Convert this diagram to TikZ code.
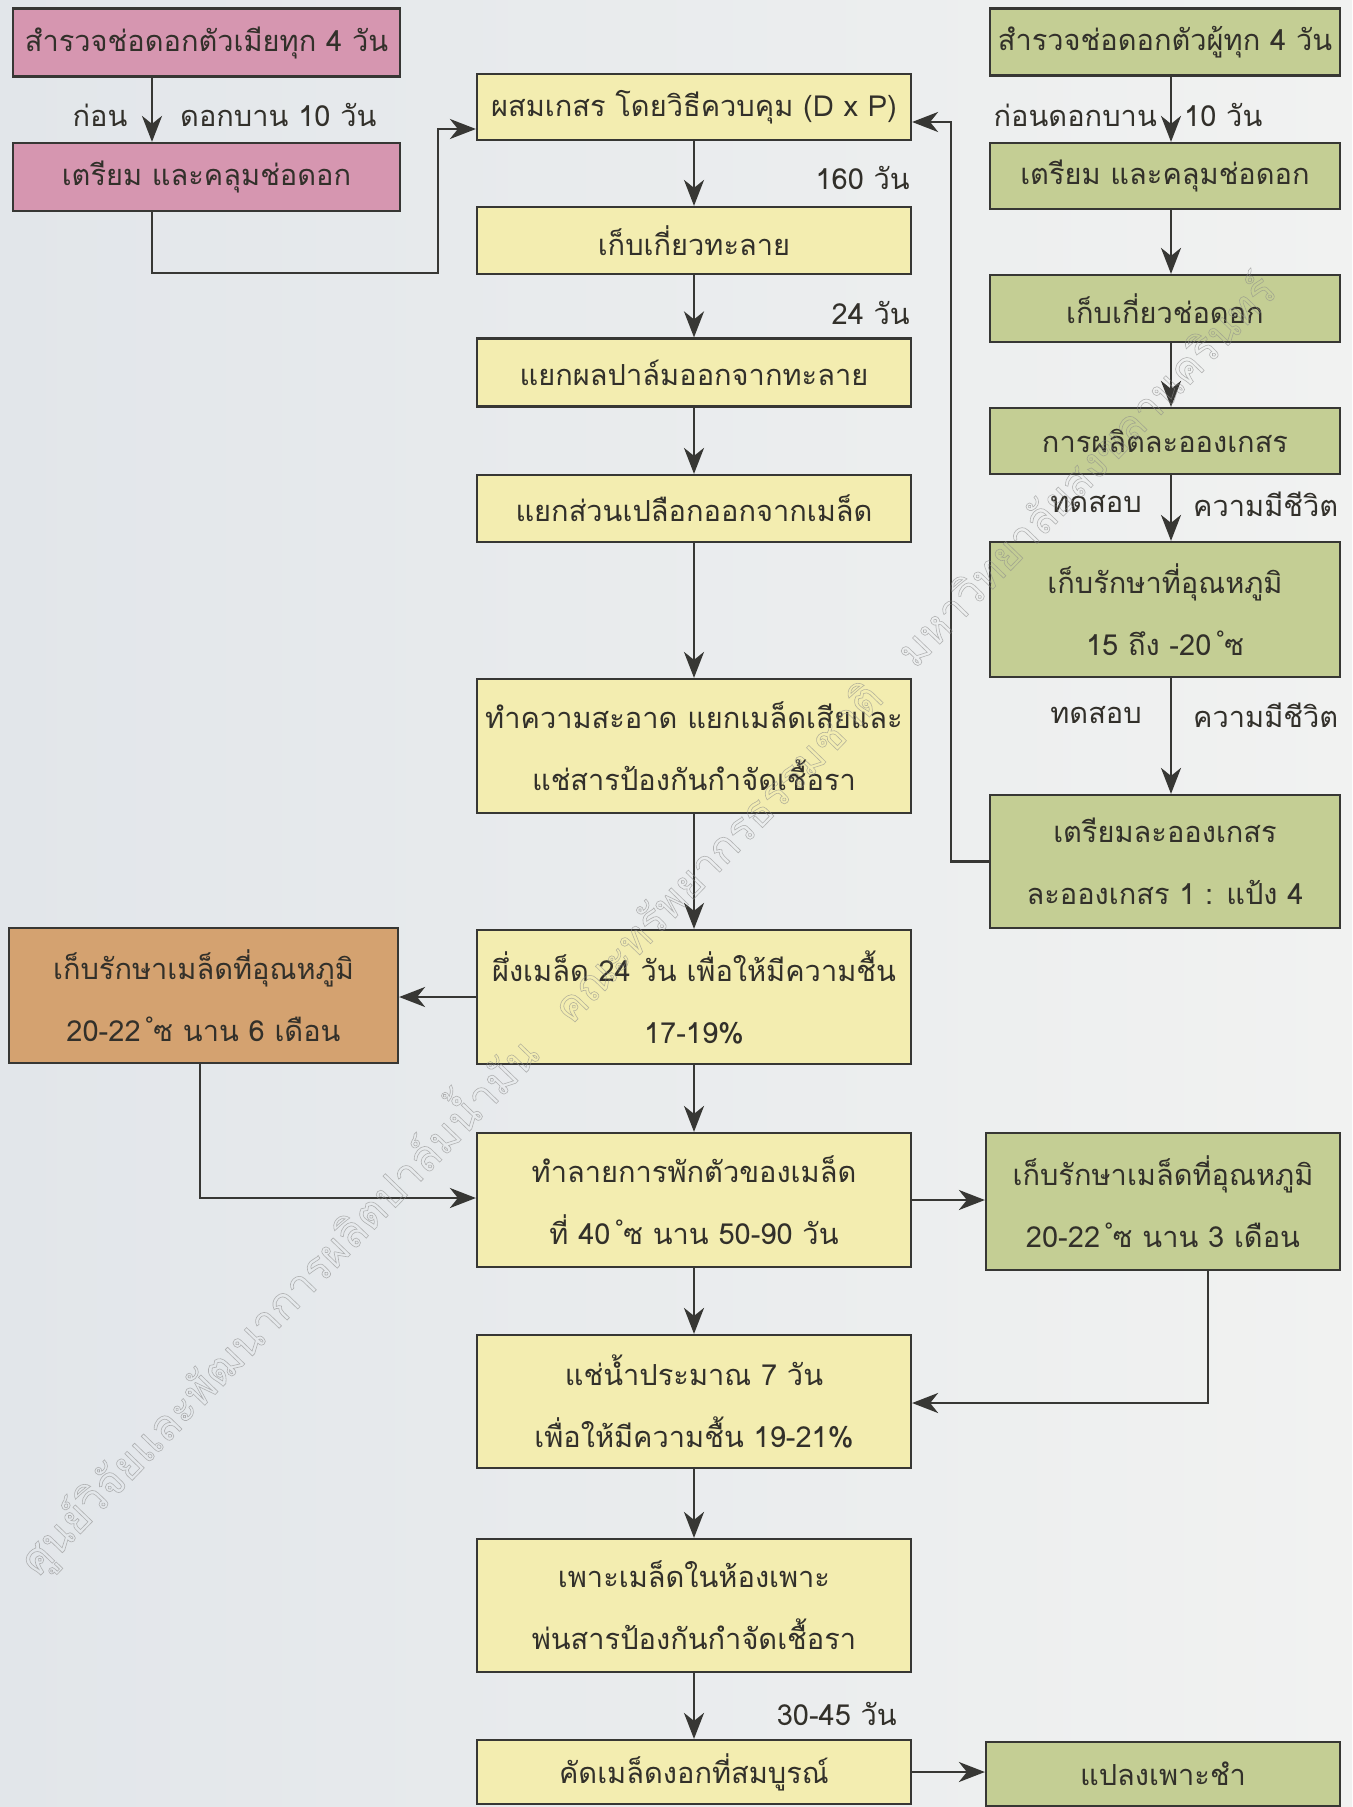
\documentclass[tikz,border=0pt]{standalone}
\usepackage{fontspec}
\newfontfamily\thaifont[Script=Thai]{Loma}
\usetikzlibrary{arrows.meta}
\definecolor{bgL}{RGB}{226,230,234}
\definecolor{bgR}{RGB}{241,242,241}
\definecolor{edge}{RGB}{55,55,52}
\definecolor{txt}{RGB}{50,48,42}
\definecolor{pinkc}{RGB}{214,150,176}
\definecolor{yelc}{RGB}{243,237,176}
\definecolor{grnc}{RGB}{196,206,148}
\definecolor{orgc}{RGB}{212,162,112}
\newcommand{\degc}{\,\raisebox{0.42em}{\fontsize{17}{17}\selectfont °}ซ}
\begin{document}
\begin{tikzpicture}[x=1pt,y=-1pt,
  box/.style={draw=edge, line width=2.2pt, inner sep=0pt, align=center, text=txt,
    font=\thaifont\fontsize{29}{62}\selectfont},
  ybox/.style={box, fill=yelc, minimum width=434pt},
  gbox/.style={box, fill=grnc, minimum width=350pt},
  pbox/.style={box, fill=pinkc, minimum width=387pt},
  obox/.style={box, fill=orgc, minimum width=389pt},
  one/.style={minimum height=66pt},
  two/.style={minimum height=134pt},
  lbl/.style={text=txt, inner sep=0pt, font=\thaifont\fontsize{29}{34}\selectfont},
  arr/.style={draw=edge, line width=2.8pt, -{Stealth[length=26pt,width=20pt,inset=8pt]}},
]
\shade[left color=bgL, right color=bgR] (0,0) rectangle (1352,1807);
\useasboundingbox (0,0) rectangle (1352,1807);

% left column
\node[pbox, minimum height=68pt] (P1) at (206.5,42.5) {สำรวจช่อดอกตัวเมียทุก 4 วัน};
\node[pbox, minimum height=68pt] (P2) at (206.5,177) {เตรียม และคลุมช่อดอก};
\node[obox, minimum height=135pt] (O1) at (203.5,995.5) {เก็บรักษาเมล็ดที่อุณหภูมิ\\20-22\degc\ นาน 6 เดือน};

% center column
\node[ybox, one] (Y1) at (694,107) {ผสมเกสร โดยวิธีควบคุม (D x P)};
\node[ybox, minimum height=67pt] (Y2) at (694,240.5) {เก็บเกี่ยวทะลาย};
\node[ybox, minimum height=68pt] (Y3) at (694,372.5) {แยกผลปาล์มออกจากทะลาย};
\node[ybox, minimum height=67pt] (Y4) at (694,508.5) {แยกส่วนเปลือกออกจากเมล็ด};
\node[ybox, two] (Y5) at (694,746) {ทำความสะอาด แยกเมล็ดเสียและ\\แช่สารป้องกันกำจัดเชื้อรา};
\node[ybox, two] (Y6) at (694,997) {ผึ่งเมล็ด 24 วัน เพื่อให้มีความชื้น\\17-19\%};
\node[ybox, two] (Y7) at (694,1200) {ทำลายการพักตัวของเมล็ด\\ที่ 40\degc\ นาน 50-90 วัน};
\node[ybox, minimum height=133pt] (Y8) at (694,1401.5) {แช่น้ำประมาณ 7 วัน\\เพื่อให้มีความชื้น 19-21\%};
\node[ybox, minimum height=133pt] (Y9) at (694,1605.5) {เพาะเมล็ดในห้องเพาะ\\พ่นสารป้องกันกำจัดเชื้อรา};
\node[ybox, minimum height=64pt] (Y10) at (694,1772) {คัดเมล็ดงอกที่สมบูรณ์};

% right column
\node[gbox, minimum height=67pt] (G1) at (1165,42) {สำรวจช่อดอกตัวผู้ทุก 4 วัน};
\node[gbox, one] (G2) at (1165,176) {เตรียม และคลุมช่อดอก};
\node[gbox, minimum height=67pt] (G3) at (1165,308.5) {เก็บเกี่ยวช่อดอก};
\node[gbox, one] (G4) at (1165,441) {การผลิตละอองเกสร};
\node[gbox, minimum height=135pt] (G5) at (1165,609.5) {เก็บรักษาที่อุณหภูมิ\\15 ถึง -20\degc};
\node[gbox, minimum height=133pt] (G6) at (1165,861.5) {เตรียมละอองเกสร\\ละอองเกสร 1 : แป้ง 4};
\node[gbox, minimum height=137pt, minimum width=354pt] (G7) at (1163,1201.5) {เก็บรักษาเมล็ดที่อุณหภูมิ\\20-22\degc\ นาน 3 เดือน};
\node[gbox, minimum height=64pt, minimum width=354pt] (G8) at (1163,1774) {แปลงเพาะชำ};

% labels
\node[lbl] (lb1) at (100,115) {ก่อน};
\node[lbl, anchor=west] (lb2) at (180,115) {ดอกบาน 10 วัน};
\node[lbl, anchor=east] (lr1) at (1157,115) {ก่อนดอกบาน};
\node[lbl, anchor=west] (lr2) at (1184,115) {10 วัน};
\node[lbl, anchor=east] (t1) at (1142,504) {ทดสอบ};
\node[lbl, anchor=west] (t2) at (1193,504) {ความมีชีวิต};
\node[lbl, anchor=east] (t3) at (1142,715) {ทดสอบ};
\node[lbl, anchor=west] (t4) at (1193,715) {ความมีชีวิต};
\node[lbl, anchor=east] (d1) at (910,178) {160 วัน};
\node[lbl, anchor=east] (d2) at (910,313) {24 วัน};
\node[lbl, anchor=east] (d3) at (897,1714) {30-45 วัน};

% coordinates for bends and arrow lines
\coordinate (pa) at (152,0);
\coordinate (ra) at (1171,0);
\coordinate (pb) at (438,273);
\coordinate (pc) at (951,122);
\coordinate (oa) at (200,1198);
\coordinate (ga) at (1208,1403);

% left arrows
\draw[arr] (P1.south -| pa) -- (P2.north -| pa);
\draw[arr] (P2.south -| pa) |- (pb) |- ([yshift=-22pt]Y1.west);
% center arrows
\draw[arr] (Y1) -- (Y2);
\draw[arr] (Y2) -- (Y3);
\draw[arr] (Y3) -- (Y4);
\draw[arr] (Y4) -- (Y5);
\draw[arr] (Y5) -- (Y6);
\draw[arr] (Y6) -- (Y7);
\draw[arr] (Y7) -- (Y8);
\draw[arr] (Y8) -- (Y9);
\draw[arr] (Y9) -- (Y10);
% right arrows
\draw[arr] (G1.south -| ra) -- (G2.north -| ra);
\draw[arr] (G2.south -| ra) -- (G3.north -| ra);
\draw[arr] (G3.south -| ra) -- (G4.north -| ra);
\draw[arr] (G4.south -| ra) -- (G5.north -| ra);
\draw[arr] (G5.south -| ra) -- (G6.north -| ra);
\draw[arr] (G6.west) -| (pc) -- (pc -| Y1.east);
% cross arrows
\draw[arr] (Y6.west) -- (O1.east |- Y6.west);
\draw[arr] (O1.south -| oa) |- (oa) -- (oa -| Y7.west);
\draw[arr] (Y7.east) -- (G7.west |- Y7.east);
\draw[arr] (G7.south -| ga) |- (ga) -- (ga -| Y8.east);
\draw[arr] (Y10.east) -- (G8.west |- Y10.east);

% watermark (on top, as in the reference)
\node[rotate=46, anchor=base west, text=gray!90, opacity=0.6, inner sep=0pt,
  font=\thaifont\fontsize{43}{43}\selectfont] (wm) at (38,1578)
  {\special{pdf:code 1 Tr 0.6 w}ศูนย์วิจัยและพัฒนาการผลิตปาล์มน้ำมัน\quad คณะทรัพยากรธรรมชาติ\quad มหาวิทยาลัยสงขลานครินทร์\special{pdf:code 0 Tr}};
\end{tikzpicture}
\end{document}
